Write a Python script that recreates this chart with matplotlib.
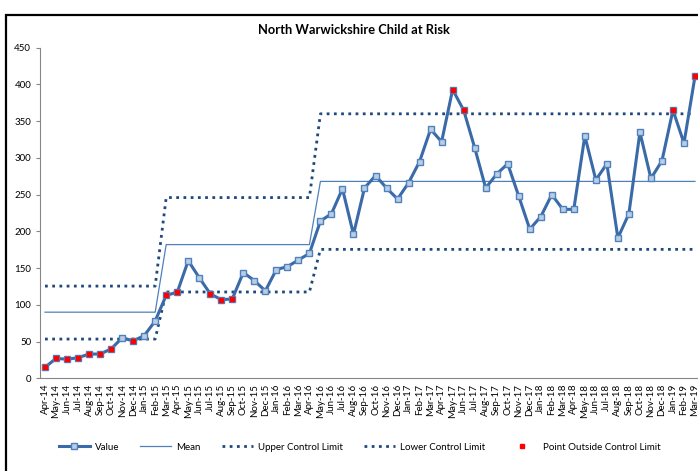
import matplotlib
matplotlib.use("Agg")
import matplotlib.pyplot as plt
import numpy as np
from matplotlib.patches import Rectangle

plt.rcParams['font.family'] = ['Lato', 'DejaVu Sans']

# %% data
months = ['Apr-14', 'May-14', 'Jun-14', 'Jul-14', 'Aug-14', 'Sep-14', 'Oct-14', 'Nov-14', 'Dec-14',
          'Jan-15', 'Feb-15', 'Mar-15', 'Apr-15', 'May-15', 'Jun-15', 'Jul-15', 'Aug-15', 'Sep-15',
          'Oct-15', 'Nov-15', 'Dec-15', 'Jan-16', 'Feb-16', 'Mar-16', 'Apr-16', 'May-16', 'Jun-16',
          'Jul-16', 'Aug-16', 'Sep-16', 'Oct-16', 'Nov-16', 'Dec-16', 'Jan-17', 'Feb-17', 'Mar-17',
          'Apr-17', 'May-17', 'Jun-17', 'Jul-17', 'Aug-17', 'Sep-17', 'Oct-17', 'Nov-17', 'Dec-17',
          'Jan-18', 'Feb-18', 'Mar-18', 'Apr-18', 'May-18', 'Jun-18', 'Jul-18', 'Aug-18', 'Sep-18',
          'Oct-18', 'Nov-18', 'Dec-18', 'Jan-19', 'Feb-19', 'Mar-19']

values = [15, 27, 26, 28, 33, 33, 40, 55, 51, 58, 78, 113, 117, 160, 137, 115, 107, 108,
          144, 133, 119, 148, 152, 161, 170, 214, 224, 258, 196, 259, 276, 259, 244, 266,
          295, 339, 322, 393, 365, 314, 259, 278, 292, 248, 203, 220, 250, 230, 230, 330,
          270, 292, 191, 224, 335, 272, 296, 365, 320, 411]

# control periods: number of months, mean, upper, lower
period_len = [11, 14, 35]
period_mean = [90, 182, 268]
period_ucl = [125.5, 246, 360]
period_lcl = [53.4, 117.5, 175.5]

# %% build series
mean = np.repeat(period_mean, period_len)
ucl = np.repeat(period_ucl, period_len)
lcl = np.repeat(period_lcl, period_len)
vals = np.array(values, dtype=float)
x = np.arange(len(months))
outside = (vals > ucl) | (vals < lcl)

# %% plot
fig = plt.figure(figsize=(6.98, 4.71), dpi=100)
ax = fig.add_axes([39.5 / 698, 1 - 378.3 / 471, 661 / 698, (378.3 - 47.7) / 471])

ax.plot(x, vals, color='#3A6AA8', lw=2.2, marker='s', ms=4.2,
        mfc='#B9CDE5', mec='#4F81BD', mew=1, label='Value', zorder=4)
ax.plot(x, mean, color='#4F81BD', lw=0.9, label='Mean', zorder=2)
ax.plot(x, ucl, color='#1F497D', lw=2, ls=(0, (1, 1.6)), label='Upper Control Limit', zorder=3)
ax.plot(x, lcl, color='#1F497D', lw=2, ls=(0, (1, 1.6)), label='Lower Control Limit', zorder=3)
ax.plot(x[outside], vals[outside], ls='none', marker='s', ms=3.4, color='#FF0000',
        label='Point Outside Control Limit', zorder=5)

ax.set_xlim(-0.5, len(months) - 0.5)
ax.set_ylim(0, 450)
ax.set_yticks(np.arange(0, 451, 50))
ax.set_xticks(x)
ax.set_xticklabels(months, rotation=90, fontsize=7)
ax.tick_params(axis='y', labelsize=7, length=3, color='#868686', pad=3)
ax.tick_params(axis='x', length=0, pad=4)
for s in ['top', 'right']:
    ax.spines[s].set_visible(False)
for s in ['left', 'bottom']:
    ax.spines[s].set_color('#868686')
    ax.spines[s].set_linewidth(0.8)

fig.text(354 / 698, 1 - 30 / 471, 'North Warwickshire Child at Risk', ha='center', va='center',
         fontsize=9.3, fontweight='bold')

fig.legend(loc='center', bbox_to_anchor=(0.515, 1 - 447 / 471), ncol=5, frameon=False,
           fontsize=7, handlelength=3.2, columnspacing=2.2, handletextpad=0.5)

# chart-area border (cropped on right/bottom)
fig.patches.append(Rectangle((5.5 / 698, -0.1), 1.2, 1.1 - 14.7 / 471, transform=fig.transFigure,
                             fill=False, ec='#000000', lw=1.6, zorder=10))

fig.savefig('out.png', dpi=100)
